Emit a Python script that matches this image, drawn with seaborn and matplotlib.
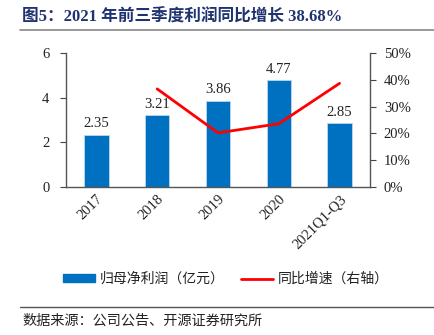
import matplotlib
matplotlib.use("Agg")
import matplotlib.pyplot as plt
import seaborn as sns
import numpy as np
import pandas as pd
from matplotlib.patches import Patch
from matplotlib.lines import Line2D
from matplotlib.ticker import FixedLocator, PercentFormatter

categories = ["2017", "2018", "2019", "2020", "2021Q1-Q3"]
profit = [2.35, 3.21, 3.86, 4.77, 2.85]
growth = [np.nan, 36.6, 20.2, 23.6, 38.68]
profit_labels = ["2.35", "3.21", "3.86", "4.77", "2.85"]

sns.set_style("white")
plt.rcParams['font.family'] = ['Liberation Serif', 'Noto Sans CJK SC', 'DejaVu Sans']

BAR = "#0070C0"
RED = "#FF0000"
CJK = ['Noto Sans CJK SC', 'DejaVu Sans']

fig = plt.figure(figsize=(4.34, 3.35), dpi=100)
ax = fig.add_axes([0.152, 0.4418, 0.7005, 0.4000])

df = pd.DataFrame({"cat": categories, "profit": profit})
sns.barplot(data=df, x="cat", y="profit", color=BAR, width=0.4, ax=ax,
            saturation=1, edgecolor="#BDD7EE", linewidth=0.6)
ax.set_ylim(0, 6)
ax.set_yticks([0, 2, 4, 6])
ax.set_xlim(-0.5, len(categories) - 0.5)
ax.set_xlabel("")
ax.set_ylabel("")
for i, (v, lab) in enumerate(zip(profit, profit_labels)):
    ax.text(i, v + 0.2, lab, ha="center", va="bottom", fontsize=10.5,
            family="Liberation Serif", color="#222222")

ax.tick_params(axis="y", direction="out", length=4, width=0.8, labelsize=10.5,
               colors="#444444", labelcolor="#222222", pad=8)
ax.xaxis.set_major_locator(FixedLocator(range(len(categories))))
ax.set_xticklabels(categories, rotation=45, ha="right", rotation_mode="anchor",
                   fontsize=10.5, color="#222222")
ax.tick_params(axis="x", length=0, pad=4)
ax.xaxis.set_minor_locator(FixedLocator(np.arange(0.5, len(categories) - 0.5, 1)))
ax.tick_params(axis="x", which="minor", direction="in", length=4, width=0.8, colors="#555555")

for s in ["top", "right"]:
    ax.spines[s].set_visible(False)
for s in ["left", "bottom"]:
    ax.spines[s].set_color("#555555")
    ax.spines[s].set_linewidth(1.0)

ax2 = ax.twinx()
pos = np.arange(len(categories))
gdf = pd.DataFrame({"pos": pos, "growth": growth}).dropna()
sns.lineplot(data=gdf, x="pos", y="growth", color=RED, linewidth=2.0, ax=ax2)
ax2.set_ylim(0, 50)
ax2.set_yticks([0, 10, 20, 30, 40, 50])
ax2.yaxis.set_major_formatter(PercentFormatter(decimals=0))
ax2.set_ylabel("")
ax2.set_xlabel("")
ax2.tick_params(axis="y", direction="out", length=4, width=0.8, labelsize=10.5,
                colors="#444444", labelcolor="#222222", pad=6)
for s in ["top", "left", "bottom"]:
    ax2.spines[s].set_visible(False)
ax2.spines["right"].set_color("#555555")
ax2.spines["right"].set_linewidth(1.0)
ax2.set_xlim(-0.5, len(categories) - 0.5)

# title
fig.text(22 / 434, 1 - 17 / 335, "图5：2021 年前三季度利润同比增长 38.68%", fontsize=12,
         fontweight="bold", color="#1F3370", va="center", ha="left",
         family=['Liberation Serif', 'Noto Sans CJK SC', 'DejaVu Sans'])
fig.add_artist(Line2D([20 / 434, 1.0], [1 - 30 / 335] * 2, color="#888888", linewidth=1.2))

# legend
handles = [Patch(facecolor=BAR, edgecolor=BAR),
           Line2D([0], [0], color=RED, linewidth=2)]
leg = fig.legend(handles, ["归母净利润（亿元）", "同比增速（右轴）"], loc="center",
                 bbox_to_anchor=(0.521, 1 - 279 / 335), ncol=2, frameon=False,
                 prop={"family": CJK, "size": 10}, handlelength=2.3, handleheight=0.5,
                 columnspacing=1.2, handletextpad=0.35)
for t in leg.get_texts():
    t.set_color("#222222")

# source
fig.add_artist(Line2D([20 / 434, 1.0], [1 - 307 / 335] * 2, color="#555555", linewidth=1.0))
fig.text(22 / 434, 1 - 321 / 335, "数据来源：公司公告、开源证券研究所", fontsize=10.2,
         color="#222222", va="center", ha="left", family=CJK)

fig.savefig("out.png", dpi=100)
